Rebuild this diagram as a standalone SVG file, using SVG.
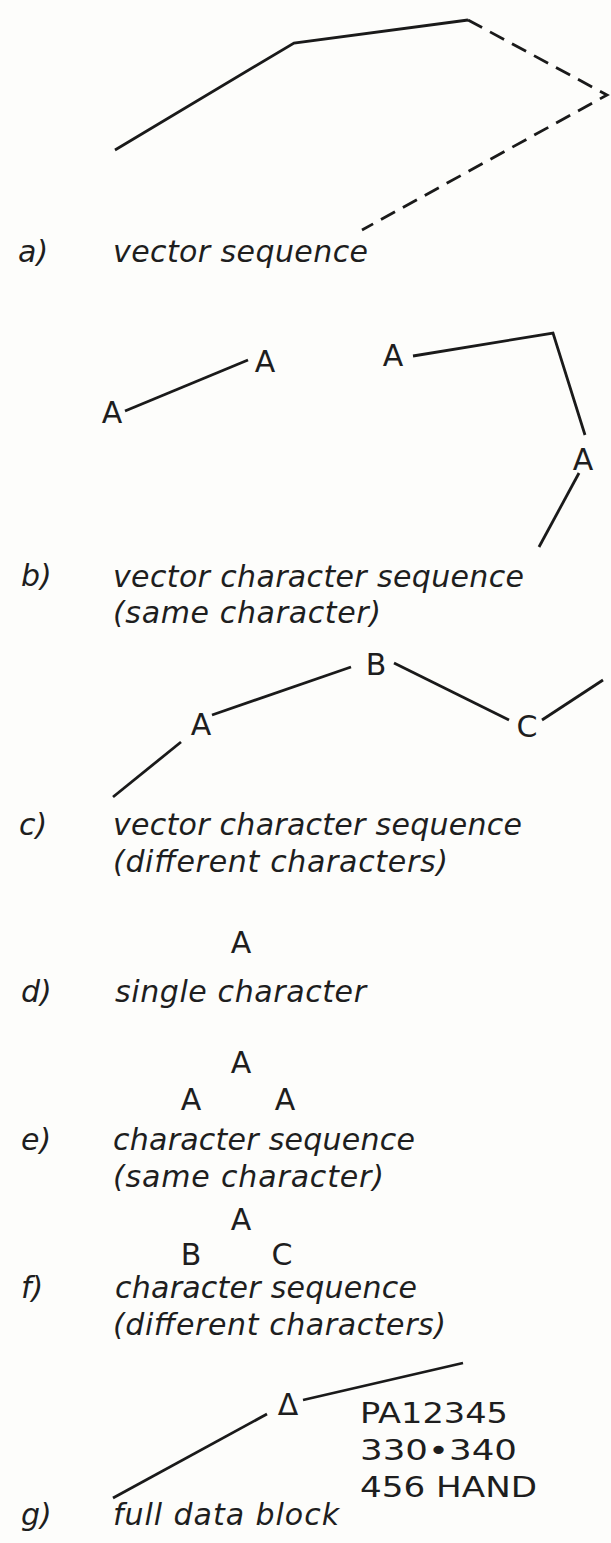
<svg xmlns="http://www.w3.org/2000/svg" width="611" height="1543" viewBox="0 0 611 1543">
<style>
.ln{fill:none;stroke:#1a1a1a;stroke-width:2.8;stroke-linecap:butt;stroke-linejoin:miter}
.dash{stroke-dasharray:16 9}
.lab{font-family:"DejaVu Sans",sans-serif;font-style:italic;font-size:30px;fill:#1e1e1e}
.ch{font-family:"DejaVu Sans",sans-serif;font-size:30px;fill:#1e1e1e;text-anchor:middle}
.blk{font-family:"DejaVu Sans",sans-serif;font-size:28px;fill:#1e1e1e}
</style>
<rect width="611" height="1543" fill="#fdfdfb"/>
<g id="connectors">
<polyline class="ln" points="115,150 294,43 468,20"/>
<polyline class="ln dash" points="468,20 607,95 362,230"/>
<line class="ln" x1="125" y1="411" x2="248" y2="360"/>
<polyline class="ln" points="413,356 553,333 585,435"/>
<line class="ln" x1="579" y1="473" x2="539" y2="547"/>
<line class="ln" x1="351" y1="667" x2="212" y2="715"/>
<line class="ln" x1="181" y1="742" x2="113" y2="797"/>
<line class="ln" x1="394" y1="663" x2="509" y2="720"/>
<line class="ln" x1="542" y1="720" x2="603" y2="680"/>
<line class="ln" x1="463" y1="1363" x2="303" y2="1400"/>
<line class="ln" x1="267" y1="1414" x2="113" y2="1498"/>
</g>
<g id="a">
<text class="lab" x="18" y="262">a)</text>
<text class="lab" x="113" y="262" textLength="255">vector sequence</text>
</g>
<g id="b">
<text class="ch" x="112" y="423">A</text>
<text class="ch" x="265" y="372">A</text>
<text class="ch" x="393" y="366">A</text>
<text class="ch" x="583" y="470">A</text>
<text class="lab" x="21" y="586">b)</text>
<text class="lab" x="113" y="587" textLength="411">vector character sequence</text>
<text class="lab" x="113" y="623" textLength="268">(same character)</text>
</g>
<g id="c">
<text class="ch" x="201" y="735">A</text>
<text class="ch" x="376" y="675">B</text>
<text class="ch" x="527" y="737">C</text>
<text class="lab" x="19" y="835">c)</text>
<text class="lab" x="113" y="835" textLength="409">vector character sequence</text>
<text class="lab" x="113" y="872" textLength="335">(different characters)</text>
</g>
<g id="d">
<text class="ch" x="241" y="953">A</text>
<text class="lab" x="21" y="1002">d)</text>
<text class="lab" x="115" y="1002" textLength="251">single character</text>
</g>
<g id="e">
<text class="ch" x="241" y="1073">A</text>
<text class="ch" x="191" y="1110">A</text>
<text class="ch" x="285" y="1110">A</text>
<text class="lab" x="21" y="1150">e)</text>
<text class="lab" x="113" y="1150" textLength="302">character sequence</text>
<text class="lab" x="113" y="1187" textLength="271">(same character)</text>
</g>
<g id="f">
<text class="ch" x="241" y="1230">A</text>
<text class="ch" x="191" y="1265">B</text>
<text class="ch" x="282" y="1265">C</text>
<text class="lab" x="21" y="1298">f)</text>
<text class="lab" x="115" y="1298" textLength="302">character sequence</text>
<text class="lab" x="113" y="1335" textLength="333">(different characters)</text>
</g>
<g id="g">
<text class="ch" x="288" y="1415">Δ</text>
<text class="blk" x="360" y="1423" textLength="148" lengthAdjust="spacingAndGlyphs">PA12345</text>
<text class="blk" x="360" y="1460" textLength="157" lengthAdjust="spacingAndGlyphs">330•340</text>
<text class="blk" x="360" y="1497" textLength="177" lengthAdjust="spacingAndGlyphs">456 HAND</text>
<text class="lab" x="21" y="1525">g)</text>
<text class="lab" x="113" y="1525" textLength="226">full data block</text>
</g>
</svg>
